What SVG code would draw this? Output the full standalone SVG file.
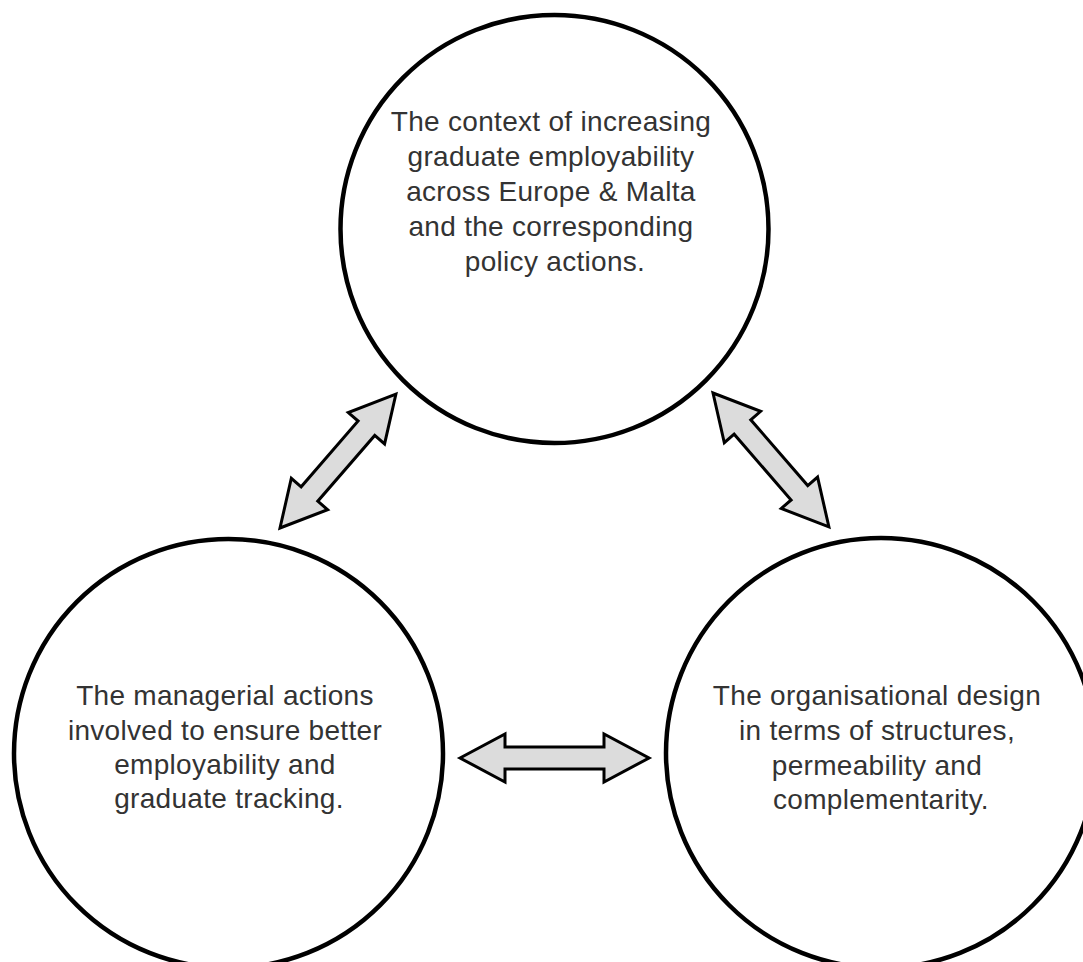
<svg xmlns="http://www.w3.org/2000/svg" width="1083" height="962" viewBox="0 0 1083 962">
  <style>
    .node { fill: #ffffff; stroke: #000000; stroke-width: 4.5; }
    .label { font-family: "Liberation Sans", Arial, sans-serif; font-size: 28px; letter-spacing: 0.3px; fill: #333333; text-anchor: middle; }
    .arrow { fill: #dcdcdc; stroke: #000000; stroke-width: 3; stroke-linejoin: miter; }
  </style>
  <rect width="1083" height="962" fill="#ffffff"/>

  <!-- double-headed connectors -->
  <g id="connectors">
    <!-- top circle to left circle -->
    <polygon class="arrow" transform="translate(280,528) rotate(-49.1)"
      points="0,0 45,-24 45,-11 132,-11 132,-24 177,0 132,24 132,11 45,11 45,24"/>
    <!-- top circle to right circle -->
    <polygon class="arrow" transform="translate(713,393) rotate(49.1)"
      points="0,0 45,-24 45,-11 132,-11 132,-24 177,0 132,24 132,11 45,11 45,24"/>
    <!-- left circle to right circle -->
    <polygon class="arrow" transform="translate(460,758)"
      points="0,0 45,-24 45,-11 144,-11 144,-24 189,0 144,24 144,11 45,11 45,24"/>
  </g>

  <g id="node-context">
    <circle class="node" cx="554.5" cy="229" r="214"/>
    <text class="label">
      <tspan x="555" y="131">The context of increasing</tspan>
      <tspan x="555" y="166">graduate employability</tspan>
      <tspan x="555" y="201">across Europe &amp; Malta</tspan>
      <tspan x="555" y="236">and the corresponding</tspan>
      <tspan x="555" y="271">policy actions.</tspan>
    </text>
  </g>

  <g id="node-managerial">
    <circle class="node" cx="228.5" cy="753.5" r="214.5"/>
    <text class="label">
      <tspan x="229" y="705">The managerial actions</tspan>
      <tspan x="229" y="740">involved to ensure better</tspan>
      <tspan x="229" y="774">employability and</tspan>
      <tspan x="229" y="808">graduate tracking.</tspan>
    </text>
  </g>

  <g id="node-organisational">
    <circle class="node" cx="881" cy="753" r="215"/>
    <text class="label">
      <tspan x="881" y="705">The organisational design</tspan>
      <tspan x="881" y="740">in terms of structures,</tspan>
      <tspan x="881" y="775">permeability and</tspan>
      <tspan x="881" y="809">complementarity.</tspan>
    </text>
  </g>
</svg>
